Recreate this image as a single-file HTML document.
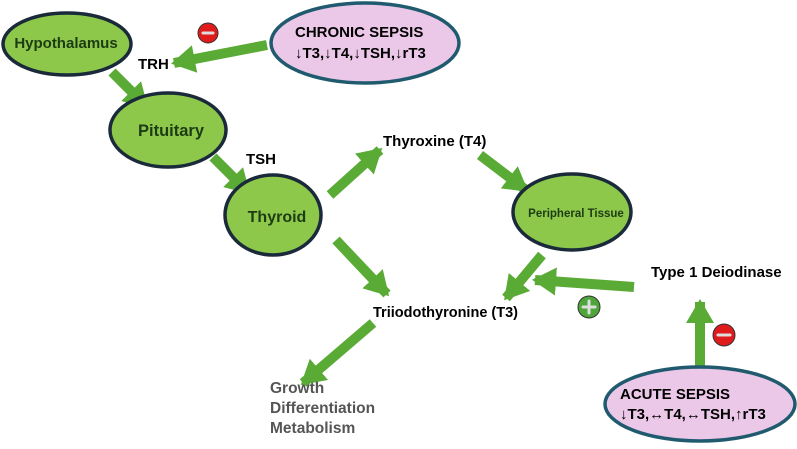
<!DOCTYPE html>
<html><head><meta charset="utf-8"><style>
body{margin:0;background:#fff}
text{font-family:"Liberation Sans",sans-serif;font-weight:bold}
</style></head><body>
<svg width="797" height="444" viewBox="0 0 797 444" xmlns="http://www.w3.org/2000/svg">
<defs>
<marker id="a" markerUnits="userSpaceOnUse" markerWidth="26" markerHeight="28" refX="21" refY="14" orient="auto">
<path d="M0,0 L24,14 L0,28 Z" fill="#5aab35"/>
</marker>
</defs>
<g stroke="#5aab35" stroke-width="10" fill="none" marker-end="url(#a)">
<line x1="112" y1="72" x2="146" y2="106"/>
<line x1="267" y1="45" x2="174" y2="63"/>
<line x1="213" y1="157" x2="248" y2="192"/>
<line x1="330" y1="195" x2="380" y2="150"/>
<line x1="336" y1="240" x2="387" y2="294"/>
<line x1="480" y1="155" x2="526" y2="190"/>
<line x1="542" y1="255" x2="506" y2="298"/>
<line x1="634" y1="287" x2="535" y2="280"/>
<line x1="700" y1="366" x2="700" y2="302"/>
<line x1="373" y1="323" x2="303" y2="383"/>
</g>
<g stroke="#1a2a3a" stroke-width="3.5" fill="#8dc84b">
<ellipse cx="67" cy="44" rx="64" ry="31"/>
<ellipse cx="168" cy="130" rx="58" ry="37"/>
<ellipse cx="273" cy="215" rx="48" ry="40"/>
<ellipse cx="572" cy="212" rx="59" ry="38"/>
</g>
<g stroke="#1f5a6e" stroke-width="3.5" fill="#ebc8e8">
<ellipse cx="365" cy="43" rx="94" ry="40"/>
<ellipse cx="700" cy="404" rx="95" ry="37"/>
</g>
<g fill="#1d3b14" text-anchor="middle">
<text x="66" y="48" font-size="15">Hypothalamus</text>
<text x="171" y="136" font-size="16.5">Pituitary</text>
<text x="277" y="222" font-size="16">Thyroid</text>
<text x="576" y="217" font-size="11.5">Peripheral Tissue</text>
</g>
<g fill="#000" font-size="15">
<text x="295" y="37">CHRONIC SEPSIS</text>
<text x="295" y="58">↓T3,↓T4,↓TSH,↓rT3</text>
<text x="620" y="399">ACUTE SEPSIS</text>
<text x="620" y="419">↓T3,↔T4,↔TSH,↑rT3</text>
<text x="138" y="69" font-size="15">TRH</text>
<text x="246" y="164" font-size="15">TSH</text>
<text x="383" y="146">Thyroxine (T4)</text>
<text x="373" y="317" font-size="14.5">Triiodothyronine (T3)</text>
<text x="651" y="277">Type 1 Deiodinase</text>
</g>
<g fill="#555" font-size="15.5">
<text x="270" y="393">Growth</text>
<text x="270" y="413">Differentiation</text>
<text x="270" y="433">Metabolism</text>
</g>
<g stroke="#333" stroke-width="1">
<circle cx="208" cy="33" r="10" fill="#e01b1b"/>
<circle cx="724" cy="335" r="11" fill="#e01b1b"/>
<circle cx="589" cy="307" r="11" fill="#4ea63a"/>
</g>
<g stroke="#ddd" stroke-width="3" stroke-linecap="round">
<line x1="203" y1="33" x2="213" y2="33"/>
<line x1="718" y1="335" x2="730" y2="335"/>
<line x1="583" y1="307" x2="595" y2="307"/>
<line x1="589" y1="301" x2="589" y2="313"/>
</g>
</svg>
</body></html>
